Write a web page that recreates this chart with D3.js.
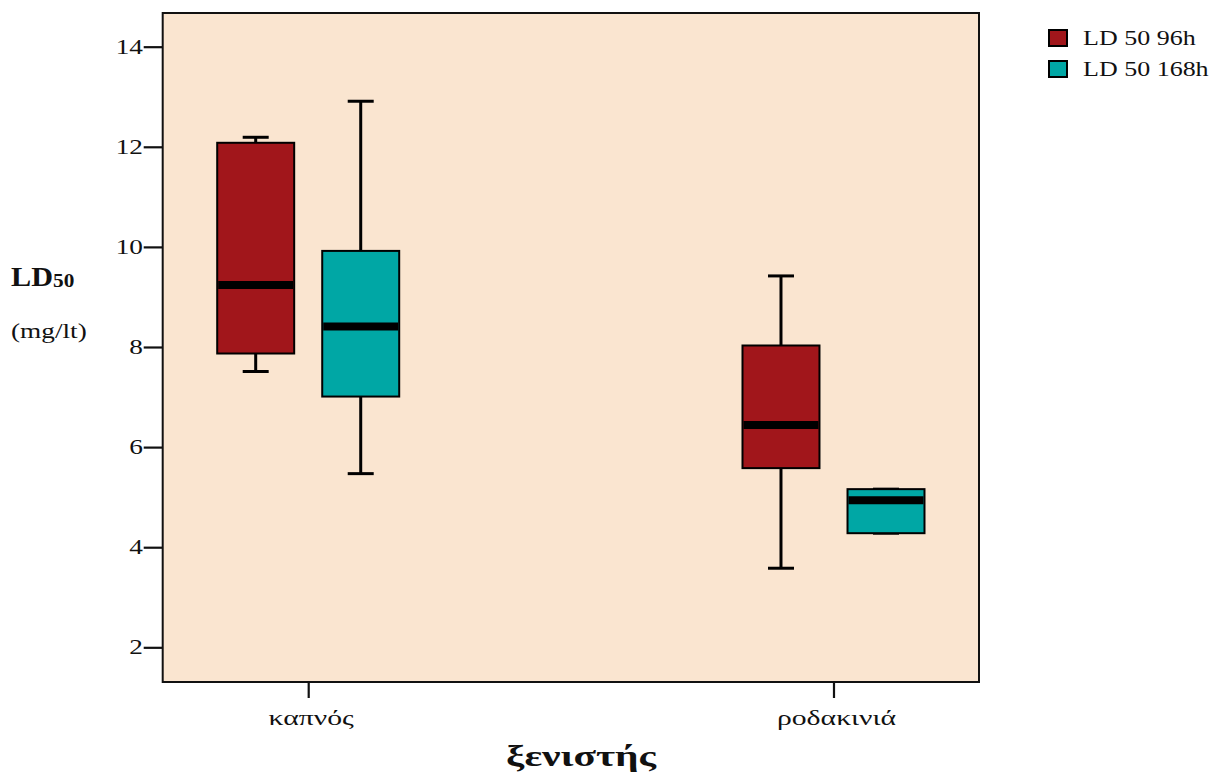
<!DOCTYPE html>
<html><head><meta charset="utf-8">
<script src="https://cdn.jsdelivr.net/npm/d3@7"></script>
<style>body{margin:0;background:#fff;} svg{display:block;} text{font-family:"Liberation Serif","Times New Roman",serif;fill:#111;}</style>
</head><body>
<svg id="chart" width="1213" height="776"></svg>
<script>
// ---- data ----
const categories = ["καπνός", "ροδακινιά"];
const series = ["LD 50 96h", "LD 50 168h"];
const seriesColors = ["#A1161B", "#00A7A5"];
// [whiskerLow, Q1, median, Q3, whiskerHigh] per category, per series
const ld96 = [
  [7.51, 7.87, 9.24, 12.08, 12.19],
  [3.58, 5.58, 6.44, 8.03, 9.42]
];
const ld168 = [
  [5.47, 7.01, 8.41, 9.92, 12.91],
  [4.28, 4.28, 4.94, 5.16, 5.16]
];
const yTicks = [2, 4, 6, 8, 10, 12, 14];

// ---- layout ----
const svg = d3.select("#chart");
const L = 162.7, R = 979, T = 13, B = 682;
const SX = 1.3;

const y = d3.scaleLinear().domain([1.307, 14.673]).range([B, T]);
const x = d3.scalePoint().domain(categories).range([L, R]).padding(0.277);
const xs = d3.scaleBand().domain(series).range([-91, 91]).paddingInner(0.267);

// plot background
svg.append("rect").attr("x", L).attr("y", T).attr("width", R - L).attr("height", B - T)
  .attr("fill", "#FAE5D0").attr("stroke", "#111").attr("stroke-width", 2);

// y axis ticks
const yAxis = svg.append("g").attr("transform", `translate(${L},0)`)
  .call(d3.axisLeft(y).tickValues(yTicks).tickSize(19).tickFormat(""));
yAxis.select(".domain").remove();
yAxis.selectAll("line").attr("stroke", "#111").attr("stroke-width", 2.2);
yTicks.forEach(v => {
  svg.append("g").attr("transform", `translate(143,${y(v) + 7}) scale(${SX},1)`)
    .append("text").attr("text-anchor", "end").attr("font-size", 21).text(v);
});

// x axis ticks
const xAxis = svg.append("g").attr("transform", `translate(0,${B})`)
  .call(d3.axisBottom(x).tickSize(16).tickFormat(""));
xAxis.select(".domain").remove();
xAxis.selectAll("line").attr("stroke", "#111").attr("stroke-width", 2.2);
categories.forEach(c => {
  svg.append("g").attr("transform", `translate(${x(c) + 3},725) scale(1.35,1)`)
    .append("text").attr("text-anchor", "middle").attr("font-size", 22).text(c);
});

// axis titles
svg.append("g").attr("transform", `translate(581,766) scale(1.38,1)`)
  .append("text").attr("text-anchor", "middle").attr("font-size", 30).attr("font-weight", "bold").text("ξενιστής");

const ldg = svg.append("g").attr("transform", "translate(11,286) scale(1.12,1)");
ldg.append("text").attr("font-size", 27).attr("font-weight", "bold").text("LD")
  .append("tspan").attr("font-size", 19).attr("dy", 1).text("50");
svg.append("g").attr("transform", "translate(11,338) scale(1.24,1)")
  .append("text").attr("font-size", 22).text("(mg/lt)");

// boxes
const allData = [ld96, ld168];
series.forEach((s, si) => {
  categories.forEach((c, ci) => {
    const d = allData[si][ci];
    const cx = x(c) + xs(s) + xs.bandwidth() / 2;
    const bw = xs.bandwidth();
    const g = svg.append("g");
    // whiskers
    g.append("line").attr("x1", cx).attr("x2", cx).attr("y1", y(d[4])).attr("y2", y(d[3]))
      .attr("stroke", "#000").attr("stroke-width", 3);
    g.append("line").attr("x1", cx).attr("x2", cx).attr("y1", y(d[1])).attr("y2", y(d[0]))
      .attr("stroke", "#000").attr("stroke-width", 3);
    [d[0], d[4]].forEach(v => {
      g.append("line").attr("x1", cx - 13).attr("x2", cx + 13).attr("y1", y(v)).attr("y2", y(v))
        .attr("stroke", "#000").attr("stroke-width", 3);
    });
    // box
    g.append("rect").attr("x", cx - bw / 2).attr("width", bw)
      .attr("y", y(d[3])).attr("height", y(d[1]) - y(d[3]))
      .attr("fill", seriesColors[si]).attr("stroke", "#000").attr("stroke-width", 2);
    // median
    g.append("line").attr("x1", cx - bw / 2 + 1).attr("x2", cx + bw / 2 - 1)
      .attr("y1", y(d[2])).attr("y2", y(d[2]))
      .attr("stroke", "#000").attr("stroke-width", 8);
  });
});

// legend
series.forEach((s, i) => {
  const gy = 30 + i * 31;
  svg.append("rect").attr("x", 1049).attr("y", gy).attr("width", 18).attr("height", 16)
    .attr("fill", seriesColors[i]).attr("stroke", "#000").attr("stroke-width", 2);
  svg.append("g").attr("transform", `translate(1083,${gy + 15}) scale(${SX},1)`)
    .append("text").attr("font-size", 20).text(s);
});
</script>
</body></html>
